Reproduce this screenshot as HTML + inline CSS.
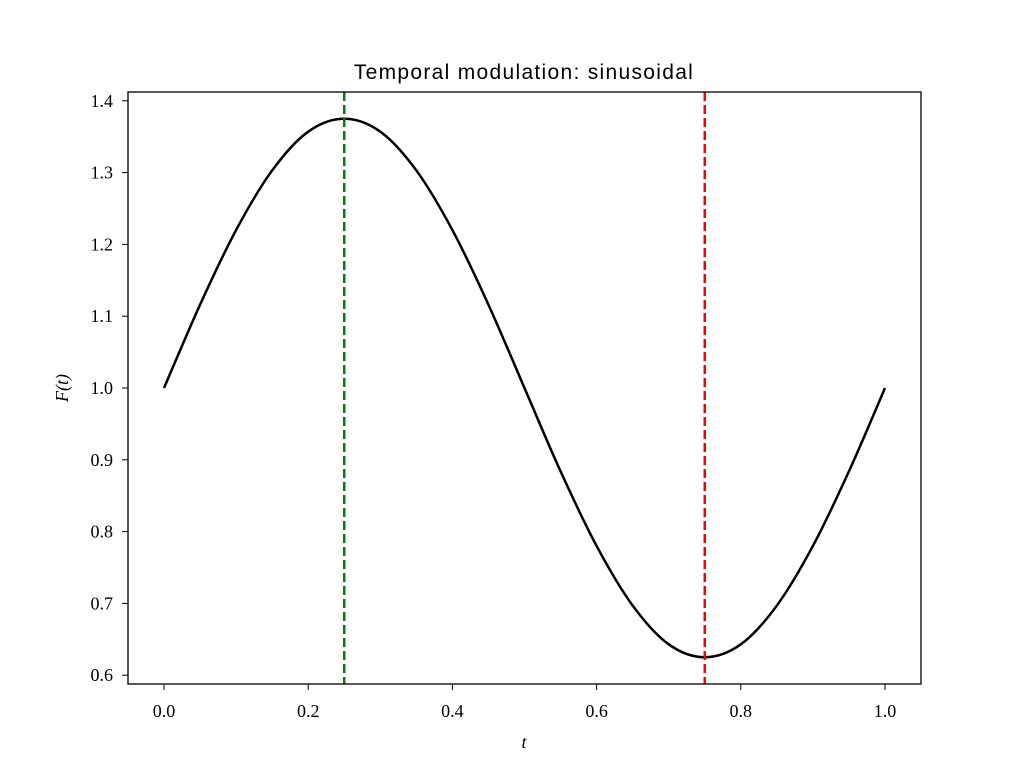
<!DOCTYPE html>
<html><head><meta charset="utf-8"><style>
body{margin:0;background:#fff;width:1024px;height:768px;overflow:hidden}
svg text{fill:#000}
.tick{font-family:"Liberation Serif",serif;font-size:18px}
</style></head><body>
<svg id="chart" width="1024" height="768" xmlns="http://www.w3.org/2000/svg">
<rect width="1024" height="768" fill="#fff"/>
<text x="524" y="79" text-anchor="middle" font-family="Liberation Sans, sans-serif" font-size="21" letter-spacing="1.3">Temporal modulation: sinusoidal</text>
<g id="plot"></g>
<rect x="128" y="92" width="793" height="592" fill="none" stroke="#000" stroke-width="1.3"/>
<text x="524" y="748" text-anchor="middle" font-family="Liberation Serif, serif" font-style="italic" font-size="18">t</text>
<text transform="translate(68,388) rotate(-90)" text-anchor="middle" font-family="Liberation Serif, serif" font-style="italic" font-size="18">F(t)</text>
</svg>
<script>
const tValues=[0,0.05,0.1,0.15,0.2,0.25,0.3,0.35,0.4,0.45,0.5,0.55,0.6,0.65,0.7,0.75,0.8,0.85,0.9,0.95,1.0];
const fValues=[1.000,1.116,1.220,1.303,1.357,1.375,1.357,1.303,1.220,1.116,1.000,0.884,0.780,0.697,0.643,0.625,0.643,0.697,0.780,0.884,1.000];
const xTicks=[0,0.2,0.4,0.6,0.8,1.0];
const xTickLabels=["0.0","0.2","0.4","0.6","0.8","1.0"];
const yTicks=[0.6,0.7,0.8,0.9,1.0,1.1,1.2,1.3,1.4];
const yTickLabels=["0.6","0.7","0.8","0.9","1.0","1.1","1.2","1.3","1.4"];
const peakT=[0.25];
const troughT=[0.75];
const X=t=>164+t*721;
const Y=v=>388-(v-1)*718;
const NS="http://www.w3.org/2000/svg";
const g=document.getElementById('plot');
function mk(tag,attrs){const e=document.createElementNS(NS,tag);for(const k in attrs)e.setAttribute(k,attrs[k]);return e;}
xTicks.forEach((t,i)=>{
 const l=mk('line',{x1:X(t),x2:X(t),y1:684,y2:690,stroke:'#000','stroke-width':1});
 
 
 g.appendChild(l);
 const tx=mk('text',{x:X(t),y:717,'text-anchor':'middle',class:'tick'});
 
 
 tx.textContent=xTickLabels[i];g.appendChild(tx);
});
yTicks.forEach((v,i)=>{
 const l=mk('line',{x1:122,x2:128,y1:Y(v),y2:Y(v),stroke:'#000','stroke-width':1});
 
 
 g.appendChild(l);
 const tx=mk('text',{x:113,y:Y(v)+6,'text-anchor':'end',class:'tick'});
 
 
 tx.textContent=yTickLabels[i];g.appendChild(tx);
});
const pts=tValues.map((t,i)=>[X(t),Y(fValues[i])]);
let d='M'+pts[0][0]+','+pts[0][1];
for(let i=0;i<pts.length-1;i++){
 const p0=pts[Math.max(0,i-1)],p1=pts[i],p2=pts[i+1],p3=pts[Math.min(pts.length-1,i+2)];
 const c1=[p1[0]+(p2[0]-p0[0])/6,p1[1]+(p2[1]-p0[1])/6];
 const c2=[p2[0]-(p3[0]-p1[0])/6,p2[1]-(p3[1]-p1[1])/6];
 d+=` C${c1[0]},${c1[1]} ${c2[0]},${c2[1]} ${p2[0]},${p2[1]}`;
}
const curve=mk('path',{d:d,fill:'none',stroke:'#000','stroke-width':2.5});


g.appendChild(curve);
peakT.forEach(t=>{
 const l=mk('line',{x1:X(t),x2:X(t),y1:92,y2:684,stroke:'#008000','stroke-width':2.5,'stroke-dasharray':'9,4'});
 
 
 g.appendChild(l);
});
troughT.forEach(t=>{
 const l=mk('line',{x1:X(t),x2:X(t),y1:92,y2:684,stroke:'#ff0000','stroke-width':2.5,'stroke-dasharray':'9,4'});
 
 
 g.appendChild(l);
});
</script>
</body></html>
